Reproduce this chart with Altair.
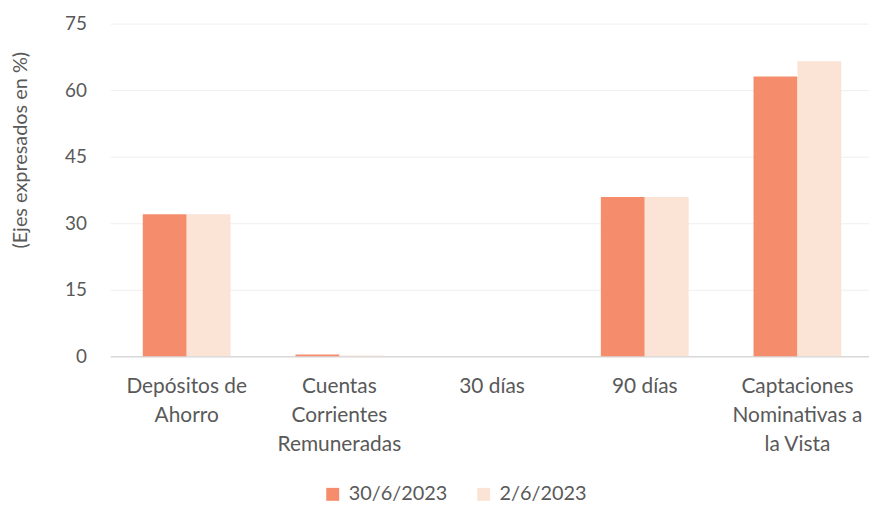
import altair as alt
import pandas as pd

categories = ["Depósitos de|Ahorro", "Cuentas|Corrientes|Remuneradas", "30 días", "90 días", "Captaciones|Nominativas a|la Vista"]
series_names = ["30/6/2023", "2/6/2023"]
values_jun30 = [32.0, 0.4, 0.0, 35.9, 63.1]
values_jun2 = [32.0, 0.2, 0.0, 35.9, 66.5]
colors = ["#F58C6C", "#FBE3D6"]

rows = []
for c, a, b in zip(categories, values_jun30, values_jun2):
    rows.append({"cat": c, "serie": series_names[0], "val": a})
    rows.append({"cat": c, "serie": series_names[1], "val": b})
df = pd.DataFrame(rows)

FONT = "Lato"
TXT = "#595959"

chart = alt.Chart(df).mark_bar().encode(
    x=alt.X("cat:N", sort=categories,
            scale=alt.Scale(paddingInner=0.425, paddingOuter=0.197, align=0.54),
            axis=alt.Axis(title=None, labelAngle=0, labelExpr="split(datum.label, '|')",
                          labelFont=FONT, labelFontSize=21, labelColor=TXT,
                          labelLineHeight=29.5, labelPadding=19, ticks=False,
                          domainColor="#D9D9D9", domainWidth=1.5, labelBaseline="top")),
    xOffset=alt.XOffset("serie:N", sort=series_names),
    y=alt.Y("val:Q", scale=alt.Scale(domain=[0, 75]),
            axis=alt.Axis(title="(Ejes expresados en %)", values=[0, 15, 30, 45, 60, 75],
                          domain=False, ticks=False, labelPadding=24,
                          labelFont=FONT, labelFontSize=19, labelColor=TXT,
                          titleFont=FONT, titleFontSize=20, titleColor=TXT, titleFontWeight="normal",
                          gridColor="#EFEFEF", gridWidth=1,
                          titleX=-90, titleY=127, titleAngle=-90, titleAlign="center",
                          titleBaseline="middle")),
    color=alt.Color("serie:N", sort=series_names,
                    scale=alt.Scale(domain=series_names, range=colors),
                    legend=alt.Legend(title=None, orient="none", legendX=214, legendY=464,
                                      direction="horizontal", symbolType="square",
                                      symbolSize=170, symbolStrokeWidth=0,
                                      labelFont=FONT, labelFontSize=20, labelColor=TXT,
                                      columnPadding=26, labelOffset=6)),
).properties(
    width=764, height=335,
    autosize=alt.AutoSizeParams(type="none"),
    padding={"left": 103, "top": 14, "right": 0, "bottom": 147},
).configure_view(stroke=None)

chart.save("out.html", embed_options={"renderer": "svg", "actions": False})
